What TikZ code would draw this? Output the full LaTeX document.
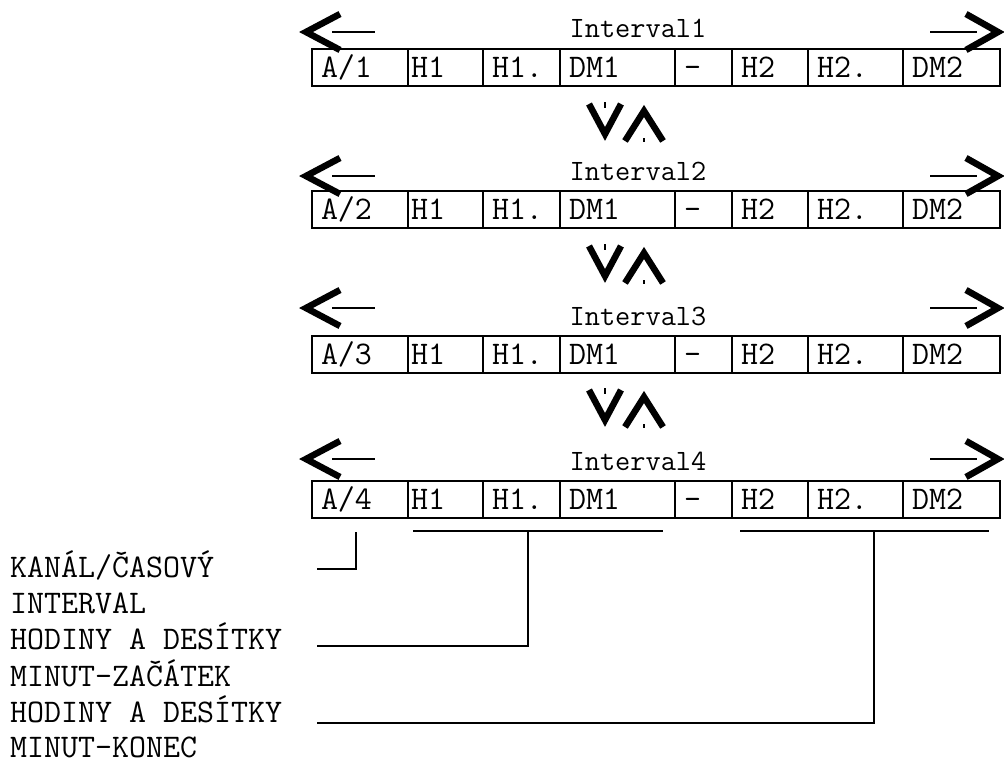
\documentclass[tikz,border=0pt]{standalone}
\usepackage{fontspec}
\usetikzlibrary{positioning}
\tikzset{
  cell/.style={draw, line width=2pt, outer sep=0pt, inner xsep=9pt, inner ysep=0pt, minimum height=37pt, text height=20pt, text depth=0pt, align=left, font=\ttfamily\fontsize{33}{38}\selectfont},
  lbl/.style={inner sep=0pt, font=\ttfamily\fontsize{29.5}{34}\selectfont},
  note/.style={inner sep=0pt, anchor=base west, font=\ttfamily\fontsize{33}{38}\selectfont},
  chev/.style={line width=6.5pt, line join=miter, miter limit=10},
  shaft/.style={line width=2pt},
  tick/.style={line width=1.5pt},
  link/.style={line width=2.2pt, line join=miter}
}
\begin{document}
\begin{tikzpicture}[x=1pt, y=-1pt]
    \useasboundingbox (0,0) rectangle (1004,760);
    % one row of cells per interval
    \foreach \r/\top/\ay in {1/49/32, 2/191/176, 3/336/308, 4/481/459}{
        \node (a\r) [cell, text width=78pt, anchor=west] at (312,\top+18.5) {A/\r};
        \node (p\r) [cell, text width=69pt, inner xsep=3pt, right=0pt of a\r] {H1};
        \node (q\r) [cell, text width=59pt, right=0pt of p\r] {H1.};
        \node (d\r) [cell, text width=97pt, right=0pt of q\r] {DM1};
        \node (m\r) [cell, text width=39pt, right=0pt of d\r] {-};
        \node (u\r) [cell, text width=58pt, right=0pt of m\r] {H2};
        \node (v\r) [cell, text width=77pt, right=0pt of u\r] {H2.};
        \node (w\r) [cell, text width=79pt, right=0pt of v\r] {DM2};
        \node (t\r) [lbl, anchor=base] at (638,\top-11) {Interval\r};
        % scroll arrows
        \draw [chev] (340,\ay-18) -- (306,\ay) -- (340,\ay+18);
        \draw [shaft] (332,\ay) -- (375,\ay);
        \draw [chev] (966,\ay-18) -- (998,\ay) -- (966,\ay+18);
        \draw [shaft] (930,\ay) -- (977,\ay);
    }
    % up/down between the rows
    \foreach \bot in {86,228,372}{
        \draw [chev] (589,\bot+18) -- (605,\bot+48) -- (621,\bot+18);
        \draw [tick] (605,\bot+16) -- (605,\bot+22);
        \draw [chev] (625,\bot+55) -- (644,\bot+25) -- (663,\bot+55);
        \draw [tick] (644,\bot+52) -- (644,\bot+56);
    }
    % legend
    \node (chan)  [note] at (10,577) {KANÁL/ČASOVÝ};
    \node (chanb) [note] at (10,613) {INTERVAL};
    \node (hbeg)  [note] at (10,649) {HODINY A DESÍTKY};
    \node (hbegb) [note] at (10,686) {MINUT-ZAČÁTEK};
    \node (hend)  [note] at (10,722) {HODINY A DESÍTKY};
    \node (hendb) [note] at (10,757) {MINUT-KONEC};
    \coordinate (k0) at (356,532);
    \coordinate (k1) at (317,569);
    \coordinate (s1a) at (413,531);
    \coordinate (s1b) at (663,531);
    \coordinate (s1m) at (528,531);
    \coordinate (s1e) at (317,646);
    \coordinate (s2a) at (740,531);
    \coordinate (s2b) at (989,531);
    \coordinate (s2m) at (874,531);
    \coordinate (s2e) at (317,723);
    \draw [link] (k0) |- (k1);
    \draw [link] (s1a) -- (s1b);
    \draw [link] (s1m) |- (s1e);
    \draw [link] (s2a) -- (s2b);
    \draw [link] (s2m) |- (s2e);
\end{tikzpicture}
\end{document}
